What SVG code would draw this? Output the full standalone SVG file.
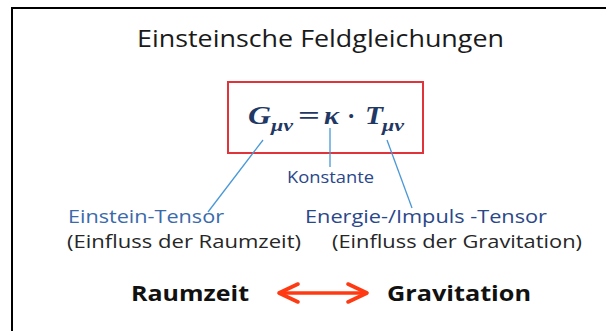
<svg xmlns="http://www.w3.org/2000/svg" width="606" height="331" viewBox="0 0 606 331">
<style>
.sans{font-family:"Open Sans","Noto Sans","Liberation Sans",sans-serif}
.title{font-size:24px;fill:#1a1a1a}
.lbl{font-size:18.5px;font-weight:500}
.blue1{fill:#3a6aab}
.blue2{fill:#2a478a}
.dark{fill:#262626}
.big{font-size:22px;font-weight:bold;fill:#111}
.math{font-family:"Liberation Serif","Times New Roman",serif;font-weight:bold;font-style:italic;fill:#1f3864;font-size:25px}
.sub{font-size:16px}
.up{font-style:normal}
.conn{stroke:#4a98d6;stroke-width:1.3;fill:none}
</style>
<defs>
<marker id="chev" markerUnits="userSpaceOnUse" markerWidth="26" markerHeight="24" viewBox="0 0 26 24" refX="22" refY="12" orient="auto-start-reverse">
<path d="M3,3 L22,12 L3,21" fill="none" stroke="#ff3a12" stroke-width="3.6" stroke-linecap="round" stroke-linejoin="round"/>
</marker>
</defs>
<rect width="606" height="331" fill="#fff"/>
<g id="frame">
<path d="M12,331 V8 H606" fill="none" stroke="#000" stroke-width="2"/>
</g>
<g id="title">
<text class="sans title" x="137" y="47" textLength="367" lengthAdjust="spacingAndGlyphs">Einsteinsche Feldgleichungen</text>
</g>
<g id="formula">
<rect x="228" y="82" width="195" height="71" fill="none" stroke="#e0343a" stroke-width="2"/>
<text class="math" x="248" y="124" textLength="23" lengthAdjust="spacingAndGlyphs">G</text>
<text class="math sub" x="271" y="131" textLength="22" lengthAdjust="spacingAndGlyphs">μν</text>
<text class="math up" x="298" y="124" textLength="22" lengthAdjust="spacingAndGlyphs">=</text>
<text class="math" x="324" y="124" textLength="15" lengthAdjust="spacingAndGlyphs">κ</text>
<text class="math up" x="347" y="124">·</text>
<text class="math" x="365" y="124" textLength="18" lengthAdjust="spacingAndGlyphs">T</text>
<text class="math sub" x="382" y="131" textLength="22" lengthAdjust="spacingAndGlyphs">μν</text>
</g>
<g id="konstante">
<text class="sans blue2" font-size="15.5" font-weight="500" x="287" y="183" textLength="87" lengthAdjust="spacingAndGlyphs">Konstante</text>
</g>
<g id="einstein-tensor">
<text class="sans lbl blue1" x="68" y="223" textLength="156" lengthAdjust="spacingAndGlyphs">Einstein-Tensor</text>
<text class="sans lbl dark" x="67" y="248" textLength="234" lengthAdjust="spacingAndGlyphs">(Einfluss der Raumzeit)</text>
</g>
<g id="energie-tensor">
<text class="sans lbl blue2" x="305" y="223" textLength="242" lengthAdjust="spacingAndGlyphs">Energie-/Impuls -Tensor</text>
<text class="sans lbl dark" x="332" y="248" textLength="250" lengthAdjust="spacingAndGlyphs">(Einfluss der Gravitation)</text>
</g>
<g id="raumzeit">
<text class="sans big" x="131" y="301" textLength="118" lengthAdjust="spacingAndGlyphs">Raumzeit</text>
</g>
<g id="gravitation">
<text class="sans big" x="387" y="301" textLength="144" lengthAdjust="spacingAndGlyphs">Gravitation</text>
</g>
<g id="connectors">
<line class="conn" x1="263" y1="140" x2="208" y2="212"/>
<line class="conn" x1="330" y1="128" x2="330" y2="167"/>
<line class="conn" x1="387" y1="140" x2="412" y2="208"/>
<line x1="279" y1="293" x2="367" y2="293" stroke="#ff3a12" stroke-width="3.6" marker-start="url(#chev)" marker-end="url(#chev)"/>
</g>
</svg>
